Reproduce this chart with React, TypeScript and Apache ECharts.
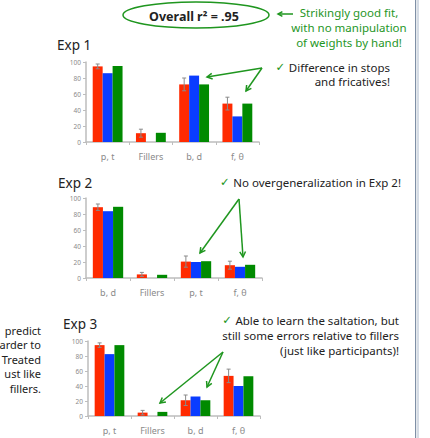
import React, { useEffect, useRef } from "react";
import * as echarts from "echarts";

const categories1 = ["p, t", "Fillers", "b, d", "f, θ"];
const categories2 = ["b, d", "Fillers", "p, t", "f, θ"];
const categories3 = ["p, t", "Fillers", "b, d", "f, θ"];

const exp1Red = [94.5, 11, 72, 48];
const exp1Blue = [86, 0, 83, 32];
const exp1Green = [95, 11.5, 72, 48];
const exp1Err = [3, 5, 8, 8];

const exp2Red = [88.5, 4.5, 20.5, 16];
const exp2Blue = [83.5, 0, 20, 14];
const exp2Green = [89, 4, 21, 16.5];
const exp2Err = [4, 2.5, 7, 5];

const exp3Red = [94.5, 4.5, 21, 53.5];
const exp3Blue = [82.5, 0, 26, 40];
const exp3Green = [94.5, 5.5, 21, 53];
const exp3Err = [3, 3, 7, 9];

const yTicks = { min: 0, max: 100, interval: 20 };

const RED = "#ff2a00";
const BLUE = "#0a3cff";
const GREEN = "#008a00";
const ANN = "#1f961f";
const FONT = "'Noto Sans', 'DejaVu Sans', sans-serif";

function arrow(x1: number, y1: number, x2: number, y2: number, head = 6) {
  const a = Math.atan2(y2 - y1, x2 - x1);
  const s = { stroke: ANN, lineWidth: 1.5 };
  const h1 = [x2 - head * Math.cos(a - 0.5), y2 - head * Math.sin(a - 0.5)];
  const h2 = [x2 - head * Math.cos(a + 0.5), y2 - head * Math.sin(a + 0.5)];
  return [
    { type: "line", shape: { x1, y1, x2, y2 }, style: s },
    { type: "polyline", shape: { points: [h1, [x2, y2], h2] }, style: { ...s, fill: null } },
  ];
}

export default function App() {
  const ref = useRef<HTMLDivElement>(null);
  useEffect(() => {
    document.body.style.margin = "0";
    const chart = echarts.init(ref.current!, null, { renderer: "svg" });
    const grids = [
      { left: 86, top: 62, width: 173, height: 80 },
      { left: 86, top: 198, width: 176, height: 80 },
      { left: 88, top: 341, width: 172, height: 75 },
    ];
    const cats = [categories1, categories2, categories3];
    const reds = [exp1Red, exp2Red, exp3Red];
    const blues = [exp1Blue, exp2Blue, exp3Blue];
    const greens = [exp1Green, exp2Green, exp3Green];
    const errs = [exp1Err, exp2Err, exp3Err];
    const gap = 0.31;
    const series: any[] = [];
    grids.forEach((_, i) => {
      [[reds[i], RED], [blues[i], BLUE], [greens[i], GREEN]].forEach(([d, c]: any) => {
        series.push({
          type: "bar",
          xAxisIndex: i,
          yAxisIndex: i,
          data: d,
          barGap: 0,
          barCategoryGap: gap * 100 + "%",
          itemStyle: { color: c },
        });
      });
      series.push({
        type: "custom",
        xAxisIndex: i,
        yAxisIndex: i,
        z: 10,
        data: errs[i].map((e, k) => [k, reds[i][k], e]),
        encode: { x: 0, y: 1 },
        renderItem: (params: any, api: any) => {
          const idx = api.value(0);
          const v = api.value(1);
          const e = api.value(2);
          const band = api.size([1, 0])[0];
          const bw = (band * (1 - gap)) / 3;
          const x = api.coord([idx, v])[0] - bw;
          const yt = api.coord([idx, v + e])[1];
          const yb = api.coord([idx, Math.max(0, v - e)])[1];
          const st = { stroke: "#8a8a8a", lineWidth: 1 };
          return {
            type: "group",
            children: [
              { type: "line", shape: { x1: x, y1: yt, x2: x, y2: yb }, style: st },
              { type: "line", shape: { x1: x - 2, y1: yt, x2: x + 2, y2: yt }, style: st },
              { type: "line", shape: { x1: x - 2, y1: yb, x2: x + 2, y2: yb }, style: st },
            ],
          };
        },
      });
    });

    const txt = (x: number, y: number, text: string, extra: any = {}) => ({
      type: "text",
      x,
      y,
      style: {
        text,
        fontFamily: FONT,
        fontSize: 11.5,
        fill: "#222",
        textVerticalAlign: "middle",
        ...extra,
      },
    });
    const check = (x: number, y: number, text: string, align = "left") => ({
      type: "text",
      x,
      y,
      style: {
        text: "{c|✓ }" + text,
        rich: { c: { fill: ANN, fontSize: 11.5, fontFamily: "'DejaVu Sans', sans-serif" } },
        fontFamily: FONT,
        fontSize: 11.5,
        fill: "#222",
        align,
        verticalAlign: "middle",
      },
    });

    const graphic: any[] = [
      // right border
      { type: "rect", shape: { x: 415, y: 0, width: 1.2, height: 438 }, style: { fill: "#7f90a6" } },
      { type: "rect", shape: { x: 417, y: 0, width: 2, height: 438 }, style: { fill: "#d5dce5" } },
      // ellipse
      { type: "ellipse", shape: { cx: 196, cy: 15, rx: 73, ry: 13 }, style: { stroke: ANN, lineWidth: 1.5, fill: null } },
      txt(194, 16, "Overall r² = .95", { fontWeight: "bold", fontSize: 12.5, textAlign: "center", fill: "#222" }),
      ...arrow(293, 14, 278, 14, 5),
      txt(349, 12, "Strikingly good fit,", { textAlign: "center", fill: ANN }),
      txt(349, 27, "with no manipulation", { textAlign: "center", fill: ANN }),
      txt(349, 42, "of weights by hand!", { textAlign: "center", fill: ANN }),
      // titles
      txt(57, 45, "Exp 1", { fontSize: 13.5 }),
      txt(58, 183, "Exp 2", { fontSize: 13.5 }),
      txt(63, 324, "Exp 3", { fontSize: 13.5 }),
      // annotations
      check(390, 67, "Difference in stops", "right"),
      txt(390, 81, "and fricatives!", { textAlign: "right" }),
      ...arrow(262, 68, 207, 77),
      ...arrow(262, 68, 246, 91),
      check(401, 182, "No overgeneralization in Exp 2!", "right"),
      ...arrow(239, 199, 200, 253),
      ...arrow(239, 199, 243, 257),
      check(399, 320, "Able to learn the saltation, but", "right"),
      txt(399, 335, "still some errors relative to fillers", { textAlign: "right" }),
      txt(399, 350, "(just like participants)!", { textAlign: "right" }),
      ...arrow(223, 352, 160, 403),
      ...arrow(223, 352, 207, 387),
      // left text, clipped at the page edge in the reference
      txt(41, 330, "predict", { textAlign: "right", fontSize: 11 }),
      txt(41, 344.5, "arder to", { textAlign: "right", fontSize: 11 }),
      txt(41, 359, "Treated", { textAlign: "right", fontSize: 11 }),
      txt(41, 373.5, "ust like", { textAlign: "right", fontSize: 11 }),
      txt(41, 388, "fillers.", { textAlign: "right", fontSize: 11 }),
    ];

    chart.setOption({
      animation: false,
      grid: grids,
      xAxis: grids.map((_, i) => ({
        type: "category",
        gridIndex: i,
        data: cats[i],
        axisLine: { lineStyle: { color: "#bdbdbd", width: 1.5 } },
        axisTick: { show: true, length: 3, lineStyle: { color: "#bdbdbd" } },
        axisLabel: { fontSize: 9, color: "#8a8a8a", margin: 10, fontFamily: FONT },
      })),
      yAxis: grids.map((_, i) => ({
        type: "value",
        gridIndex: i,
        ...yTicks,
        axisLine: { show: true, lineStyle: { color: "#bdbdbd", width: 1.5 } },
        axisTick: { show: true, length: 3, lineStyle: { color: "#bdbdbd" } },
        splitLine: { show: false },
        axisLabel: { fontSize: 6.5, color: "#8a8a8a", margin: 5, fontFamily: FONT },
      })),
      series,
      graphic,
    });
    return () => chart.dispose();
  }, []);
  return <div ref={ref} style={{ width: 430, height: 438 }} />;
}
